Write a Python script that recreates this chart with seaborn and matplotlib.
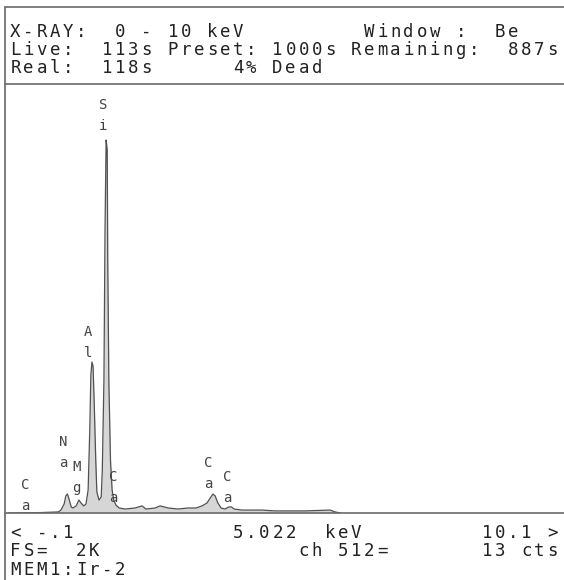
"""
EDS spectrum screen (X-RAY 0 - 10 keV) redrawn with seaborn / matplotlib.
"""

import numpy as np
import pandas as pd
import seaborn as sns
import matplotlib
matplotlib.use("Agg")
import matplotlib.pyplot as plt

# -------------------------------------------------
# Data
# -------------------------------------------------

energy_kev = [
    -0.10, 0.49, 0.82, 0.87, 0.93, 0.96, 0.99, 1.02, 1.06, 1.09,
    1.15, 1.20, 1.24, 1.29, 1.33, 1.37, 1.40, 1.42, 1.44, 1.46,
    1.48, 1.51, 1.53, 1.57, 1.61, 1.63, 1.66, 1.68, 1.70, 1.72,
    1.73, 1.75, 1.78, 1.81, 1.84, 1.88, 1.94, 2.05, 2.23, 2.36,
    2.43, 2.60, 2.69, 2.84, 3.02, 3.20, 3.35, 3.46, 3.55, 3.61,
    3.66, 3.70, 3.75, 3.81, 3.88, 3.95, 4.00, 4.05, 4.19, 4.34,
    4.56, 4.80, 5.07, 5.35, 5.81, 5.90, 6.00,
]
counts = [
    0, 2, 5, 14, 43, 82, 91, 67, 29, 24,
    34, 62, 48, 34, 43, 110, 398, 662, 724, 705,
    542, 254, 101, 62, 77, 206, 638, 1357, 1789, 1741,
    1213, 638, 254, 110, 62, 38, 24, 19, 24, 34,
    19, 24, 34, 24, 19, 24, 24, 34, 48, 72,
    91, 82, 48, 24, 19, 29, 29, 19, 14, 14,
    14, 10, 10, 10, 14, 5, 0,
]

# peak labels: element, energy (keV), height of first letter (cts)
label_elem = ["Ca", "Na", "Mg", "Al", "Si", "Ca", "Ca", "Ca"]
label_kev = [0.21, 0.91, 1.15, 1.37, 1.64, 1.83, 3.57, 3.92]
label_cts = [134, 341, 221, 869, 1958, 173, 240, 173]

header_lines = [
    "X-RAY:  0 - 10 keV         Window :  Be",
    "Live:  113s Preset: 1000s Remaining:  887s",
    "Real:  118s      4% Dead",
]
footer_lines = [
    "< -.1            5.022  keV         10.1 >",
    "FS=  2K               ch 512=       13 cts",
    "MEM1:Ir-2",
]

E_MIN, E_MAX = -0.1, 10.1
FULL_SCALE = 2048

# -------------------------------------------------
# Figure
# -------------------------------------------------

sns.set_theme(style="white")
plt.rcParams["font.family"] = ["DejaVu Sans Mono", "DejaVu Sans"]

W, H = 564, 580
fig = plt.figure(figsize=(W / 100, H / 100), dpi=100)
fig.patch.set_facecolor("white")

INK = "#222222"
RULE = "#6a6a6a"

# spectrum panel, placed in pixel terms
px_left, px_right, px_top, px_bot = 8, 564, 86, 513
ax = fig.add_axes([px_left / W, (H - px_bot) / H,
                   (px_right - px_left) / W, (px_bot - px_top) / H])

df = pd.DataFrame({"keV": energy_kev, "cts": counts})
ax.fill_between(df["keV"], df["cts"], color="#d6d6d6", linewidth=0)
sns.lineplot(data=df, x="keV", y="cts", ax=ax, color="#505050",
             linewidth=0.9, estimator=None, sort=False)
ax.set_xlim(E_MIN, E_MAX)
ax.set_ylim(0, FULL_SCALE)
ax.set_axis_off()

for elem, e, c in zip(label_elem, label_kev, label_cts):
    ax.text(e, c, elem[0], ha="center", va="center", fontsize=10,
            color="#444444")
    ax.annotate(elem[1], (e, c), xytext=(0, -15), textcoords="offset points",
                ha="center", va="center", fontsize=10, color="#444444")

# overlay for the frame and the terminal text
ov = fig.add_axes([0, 0, 1, 1], zorder=5)
ov.set_xlim(0, W)
ov.set_ylim(H, 0)
ov.set_axis_off()
ov.patch.set_alpha(0)

ov.plot([5, W], [7, 7], color=RULE, lw=1.2)
ov.plot([5, 5], [7, H], color=RULE, lw=1.2)
ov.plot([5, W], [84, 84], color=RULE, lw=1.2)
ov.plot([5, W], [513, 513], color=RULE, lw=1.2)

COL_W = 13.1
X0 = 9


def term_line(text, y):
    # one character per fixed column, like the instrument screen
    for i, ch in enumerate(text):
        if ch != " ":
            ov.text(X0 + (i + 0.5) * COL_W, y, ch, ha="center", va="center",
                    fontsize=12.5, color=INK)


for line, y in zip(header_lines, [32, 50, 68]):
    term_line(line, y)
for line, y in zip(footer_lines, [533, 551, 570]):
    term_line(line, y)

fig.savefig("out.png", dpi=100, facecolor="white")
